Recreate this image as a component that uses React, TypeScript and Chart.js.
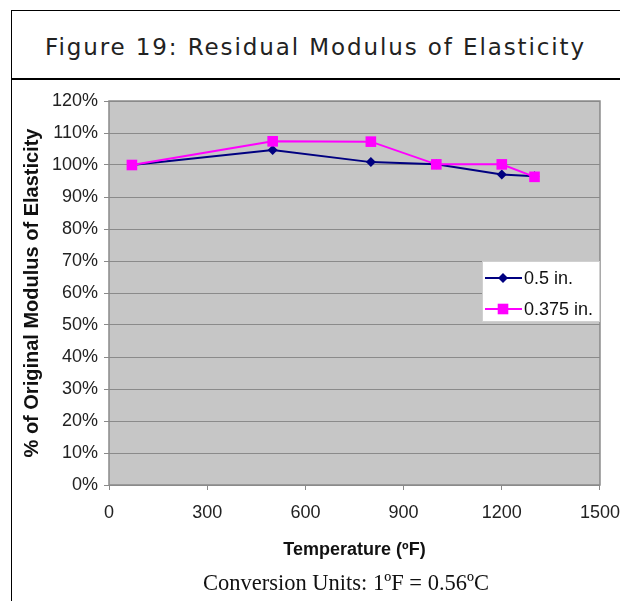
import React, { useEffect, useRef } from "react";
import { Chart, registerables } from "chart.js";

Chart.register(...registerables);

const temperatures = [70, 500, 800, 1000, 1200, 1300];
const series05 = [100, 104.7, 100.9, 100.2, 97.0, 96.5];
const series0375 = [100, 107.4, 107.3, 100.2, 100.2, 96.3];
const seriesNames = ["0.5 in.", "0.375 in."];
const xTicks = [0, 300, 600, 900, 1200, 1500];
const yMax = 120;
const footnote = "Conversion Units: 1ºF = 0.56ºC";

const bgPlugin = {
  id: "plotBg",
  beforeDraw(chart: any) {
    const { ctx, chartArea } = chart;
    ctx.save();
    ctx.fillStyle = "#c6c6c6";
    ctx.fillRect(chartArea.left, chartArea.top, chartArea.right - chartArea.left, chartArea.bottom - chartArea.top);
    ctx.restore();
  },
  afterDraw(chart: any) {
    const { ctx, chartArea } = chart;
    ctx.save();
    ctx.strokeStyle = "#8a8a8a";
    ctx.lineWidth = 1.5;
    ctx.strokeRect(chartArea.left, chartArea.top, chartArea.right - chartArea.left, chartArea.bottom - chartArea.top);
    // legend
    const bx = 470, by = 180, bw = 117, bh = 60;
    ctx.fillStyle = "#ffffff";
    ctx.fillRect(bx, by, bw, bh);
    ctx.strokeStyle = "#d0d0d0";
    ctx.lineWidth = 1;
    ctx.strokeRect(bx + 0.5, by + 0.5, bw, bh);
    chart.data.datasets.forEach((ds: any, i: number) => {
      const y = by + 17 + i * 31;
      ctx.strokeStyle = ds.borderColor;
      ctx.lineWidth = 2;
      ctx.beginPath();
      ctx.moveTo(bx + 3, y);
      ctx.lineTo(bx + 40, y);
      ctx.stroke();
      ctx.fillStyle = ds.backgroundColor;
      ctx.beginPath();
      const cx = bx + 21;
      if (ds.pointStyle === "rectRot") {
        const r = ds.pointRadius;
        ctx.moveTo(cx, y - r);
        ctx.lineTo(cx + r, y);
        ctx.lineTo(cx, y + r);
        ctx.lineTo(cx - r, y);
        ctx.closePath();
      } else {
        const s = ds.pointRadius * Math.SQRT1_2;
        ctx.rect(cx - s, y - s, 2 * s, 2 * s);
      }
      ctx.fill();
      ctx.fillStyle = "#111";
      ctx.font = "18px 'Liberation Sans', Arial, sans-serif";
      ctx.textBaseline = "middle";
      ctx.textAlign = "left";
      ctx.fillText(seriesNames[i], bx + 42, y + 1);
    });
    // footnote
    ctx.fillStyle = "#111";
    ctx.font = "22.5px 'Liberation Serif', 'Times New Roman', serif";
    ctx.textAlign = "center";
    ctx.textBaseline = "middle";
    ctx.fillText(footnote, 334, 503);
    ctx.restore();
  },
};

export default function App() {
  const ref = useRef<HTMLCanvasElement>(null);
  useEffect(() => {
    const chart = new Chart(ref.current!, {
      type: "line",
      data: {
        datasets: [
          {
            label: seriesNames[0],
            data: temperatures.map((t, i) => ({ x: t, y: series05[i] })),
            borderColor: "#000080",
            backgroundColor: "#000080",
            pointStyle: "rectRot",
            pointRadius: 5,
            pointBorderWidth: 0,
            borderWidth: 2,
            order: 1,
          },
          {
            label: seriesNames[1],
            data: temperatures.map((t, i) => ({ x: t, y: series0375[i] })),
            borderColor: "#ff00ff",
            backgroundColor: "#ff00ff",
            pointStyle: "rect",
            pointRadius: 7.5,
            pointBorderWidth: 0,
            borderWidth: 2,
            order: 0,
          },
        ],
      },
      options: {
        animation: false,
        responsive: false,
        maintainAspectRatio: false,
        layout: { padding: { left: 0, right: 32, top: 20, bottom: 36 } },
        plugins: {
          legend: { display: false },
          tooltip: { enabled: false },
        },
        scales: {
          x: {
            type: "linear",
            min: 0,
            max: 1500,
            afterBuildTicks: (axis: any) => {
              axis.ticks = xTicks.map((v) => ({ value: v }));
            },
            afterFit: (axis: any) => {
              axis.height = 80;
            },
            grid: { drawOnChartArea: false, drawTicks: true, tickLength: 5, color: "#8a8a8a" },
            border: { display: false },
            ticks: {
              color: "#222",
              font: { family: "'Liberation Sans', Arial, sans-serif", size: 18 },
              padding: 12,
              maxRotation: 0,
              callback: (v: any) => String(v),
            },
            title: {
              display: true,
              text: "Temperature (ºF)",
              color: "#111",
              font: { family: "'Liberation Sans', Arial, sans-serif", size: 18, weight: "bold" },
              padding: { top: 0, bottom: 4 },
            },
          },
          y: {
            min: 0,
            max: yMax,
            afterFit: (axis: any) => {
              axis.width = 97;
            },
            grid: { drawOnChartArea: true, drawTicks: true, tickLength: 5, color: "#8a8a8a", lineWidth: 1 },
            border: { display: false },
            ticks: {
              stepSize: 10,
              color: "#222",
              font: { family: "'Liberation Sans', Arial, sans-serif", size: 18 },
              padding: 6,
              callback: (v: any) => v + "%",
            },
            title: {
              display: true,
              text: "% of Original Modulus of Elasticity",
              color: "#111",
              font: { family: "'Liberation Sans', Arial, sans-serif", size: 20, weight: "bold" },
              padding: { top: 8, bottom: 0 },
            },
          },
        },
      },
      plugins: [bgPlugin],
    } as any);
    return () => chart.destroy();
  }, []);

  return (
    <div style={{ position: "absolute", left: 0, top: 0, width: 620, height: 601, overflow: "hidden", background: "#fff" }}>
      <div
        style={{
          position: "absolute",
          left: 11,
          top: 10,
          width: 640,
          height: 640,
          borderLeft: "1.5px solid #000",
          borderTop: "1.5px solid #000",
          boxSizing: "border-box",
        }}
      />
      <div style={{ position: "absolute", left: 11, top: 78, width: 620, height: 2, background: "#000" }} />
      <div
        style={{
          position: "absolute",
          left: 11,
          top: 30,
          width: 609,
          textAlign: "center",
          fontFamily: "'DejaVu Sans', Verdana, sans-serif",
          fontSize: 23,
          letterSpacing: 1.9,
          color: "#222",
          lineHeight: "34px",
          whiteSpace: "nowrap",
        }}
      >
        Figure 19: Residual Modulus of Elasticity
      </div>
      <canvas ref={ref} width={620} height={520} style={{ position: "absolute", left: 12, top: 81, width: 620, height: 520 }} />
    </div>
  );
}
